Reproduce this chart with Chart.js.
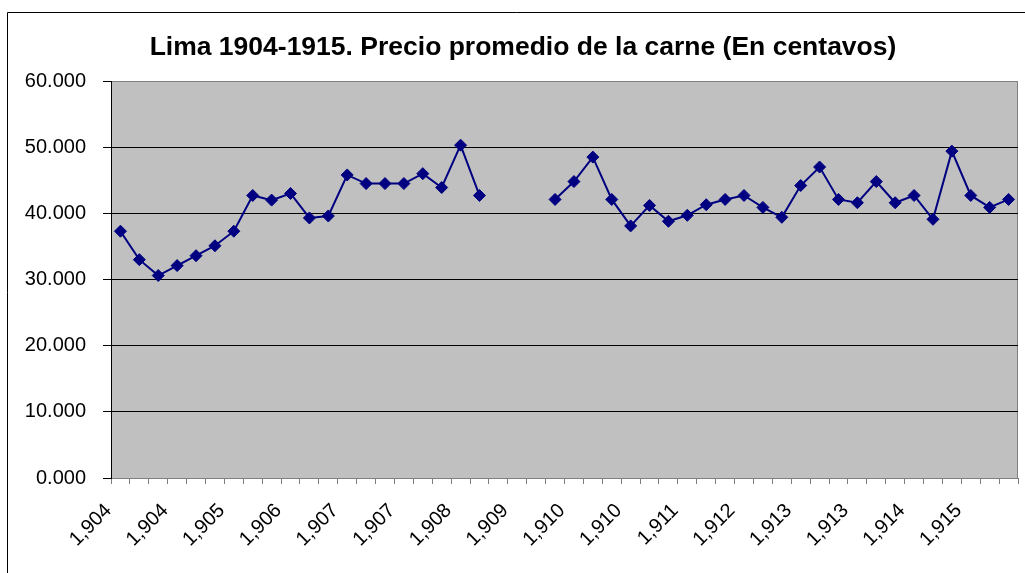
<!DOCTYPE html>
<html>
<head>
<meta charset="utf-8">
<script src="https://cdn.jsdelivr.net/npm/chart.js@4.4.1/dist/chart.umd.min.js"></script>
<style>
  html, body { margin: 0; padding: 0; background: #fff; }
  #wrap { width: 1025px; height: 573px; }
</style>
</head>
<body>
<div id="wrap"><canvas id="carneChart" width="1025" height="573"></canvas></div>
<script>
const chartTitle = 'Lima 1904-1915. Precio promedio de la carne (En centavos)';
// one label every 3 quarters, as on the original axis
const tickLabels = ['1,904', '1,904', '1,905', '1,906', '1,907', '1,907', '1,908', '1,909',
  '1,910', '1,910', '1,911', '1,912', '1,913', '1,913', '1,914', '1,915'];
// quarterly average price, cents (gap = no data)
const precios = [37.3, 33.0, 30.6, 32.1, 33.6, 35.1, 37.3, 42.7, 42.0, 43.0, 39.3, 39.6,
  45.8, 44.5, 44.5, 44.5, 46.0, 43.9, 50.3, 42.7, null, null, null, 42.1,
  44.8, 48.5, 42.1, 38.1, 41.2, 38.8, 39.7, 41.3, 42.1, 42.7, 40.9, 39.4,
  44.2, 47.0, 42.1, 41.6, 44.8, 41.6, 42.7, 39.1, 49.4, 42.7, 40.9, 42.1];
const yTicks = [0, 10, 20, 30, 40, 50, 60];

const categories = precios.map((_, i) => (i % 3 === 0 ? tickLabels[i / 3] : ''));
const FONT = 'Liberation Sans, Arial, sans-serif';

// white page, outer frame, grey plot area and the title
const chartFrame = {
  id: 'chartFrame',
  beforeDraw(chart) {
    const { ctx, chartArea: a } = chart;
    ctx.save();
    ctx.fillStyle = '#fff';
    ctx.fillRect(0, 0, chart.width, chart.height);
    ctx.strokeStyle = '#000';
    ctx.lineWidth = 1;
    ctx.beginPath();
    ctx.moveTo(7.5, chart.height);
    ctx.lineTo(7.5, 12.5);
    ctx.lineTo(chart.width, 12.5);
    ctx.stroke();
    ctx.fillStyle = '#c0c0c0';
    ctx.fillRect(a.left, a.top, a.right - a.left, a.bottom - a.top);
    ctx.strokeStyle = '#808080';
    ctx.strokeRect(a.left + 0.5, a.top + 0.5, a.right - a.left - 1, a.bottom - a.top);
    ctx.fillStyle = '#000';
    ctx.font = 'bold 26.5px ' + FONT;
    ctx.textAlign = 'center';
    ctx.textBaseline = 'alphabetic';
    ctx.fillText(chartTitle, 523, 55);
    ctx.restore();
  }
};

new Chart(document.getElementById('carneChart'), {
  type: 'line',
  data: {
    labels: categories,
    datasets: [{
      data: precios,
      borderColor: '#000080',
      backgroundColor: '#000080',
      borderWidth: 2,
      pointStyle: 'rectRot',
      pointRadius: 6,
      pointBorderWidth: 1,
      pointBackgroundColor: '#000080',
      pointBorderColor: '#000080',
      spanGaps: false,
      tension: 0
    }]
  },
  options: {
    responsive: false,
    animation: false,
    layout: { padding: { left: 0, top: 81, right: 7, bottom: 0 } },
    plugins: {
      legend: { display: false },
      title: { display: false },
      tooltip: { enabled: false }
    },
    scales: {
      x: {
        type: 'category',
        offset: true,
        grid: { offset: true, drawOnChartArea: false, drawTicks: true, tickLength: 6, color: '#808080' },
        border: { color: '#808080' },
        ticks: {
          autoSkip: false, minRotation: 45, maxRotation: 45, padding: 15, labelOffset: -12,
          color: '#000', font: { family: FONT, size: 20 }
        },
        afterFit(scale) {
          scale.height = 95;
          scale.paddingLeft = 0;
          scale.paddingRight = 0;
        }
      },
      y: {
        min: 0,
        max: 60,
        afterBuildTicks(scale) { scale.ticks = yTicks.map(v => ({ value: v })); },
        grid: {
          color: c => (c.tick && c.tick.value === 60 ? '#808080' : '#000'),
          tickColor: '#000',
          tickLength: 8
        },
        border: { color: '#000' },
        ticks: {
          padding: 17, color: '#000', font: { family: FONT, size: 20 },
          callback: v => v.toFixed(3)
        },
        afterFit(scale) { scale.width = 111; }
      }
    }
  },
  plugins: [chartFrame]
});
</script>
</body>
</html>
